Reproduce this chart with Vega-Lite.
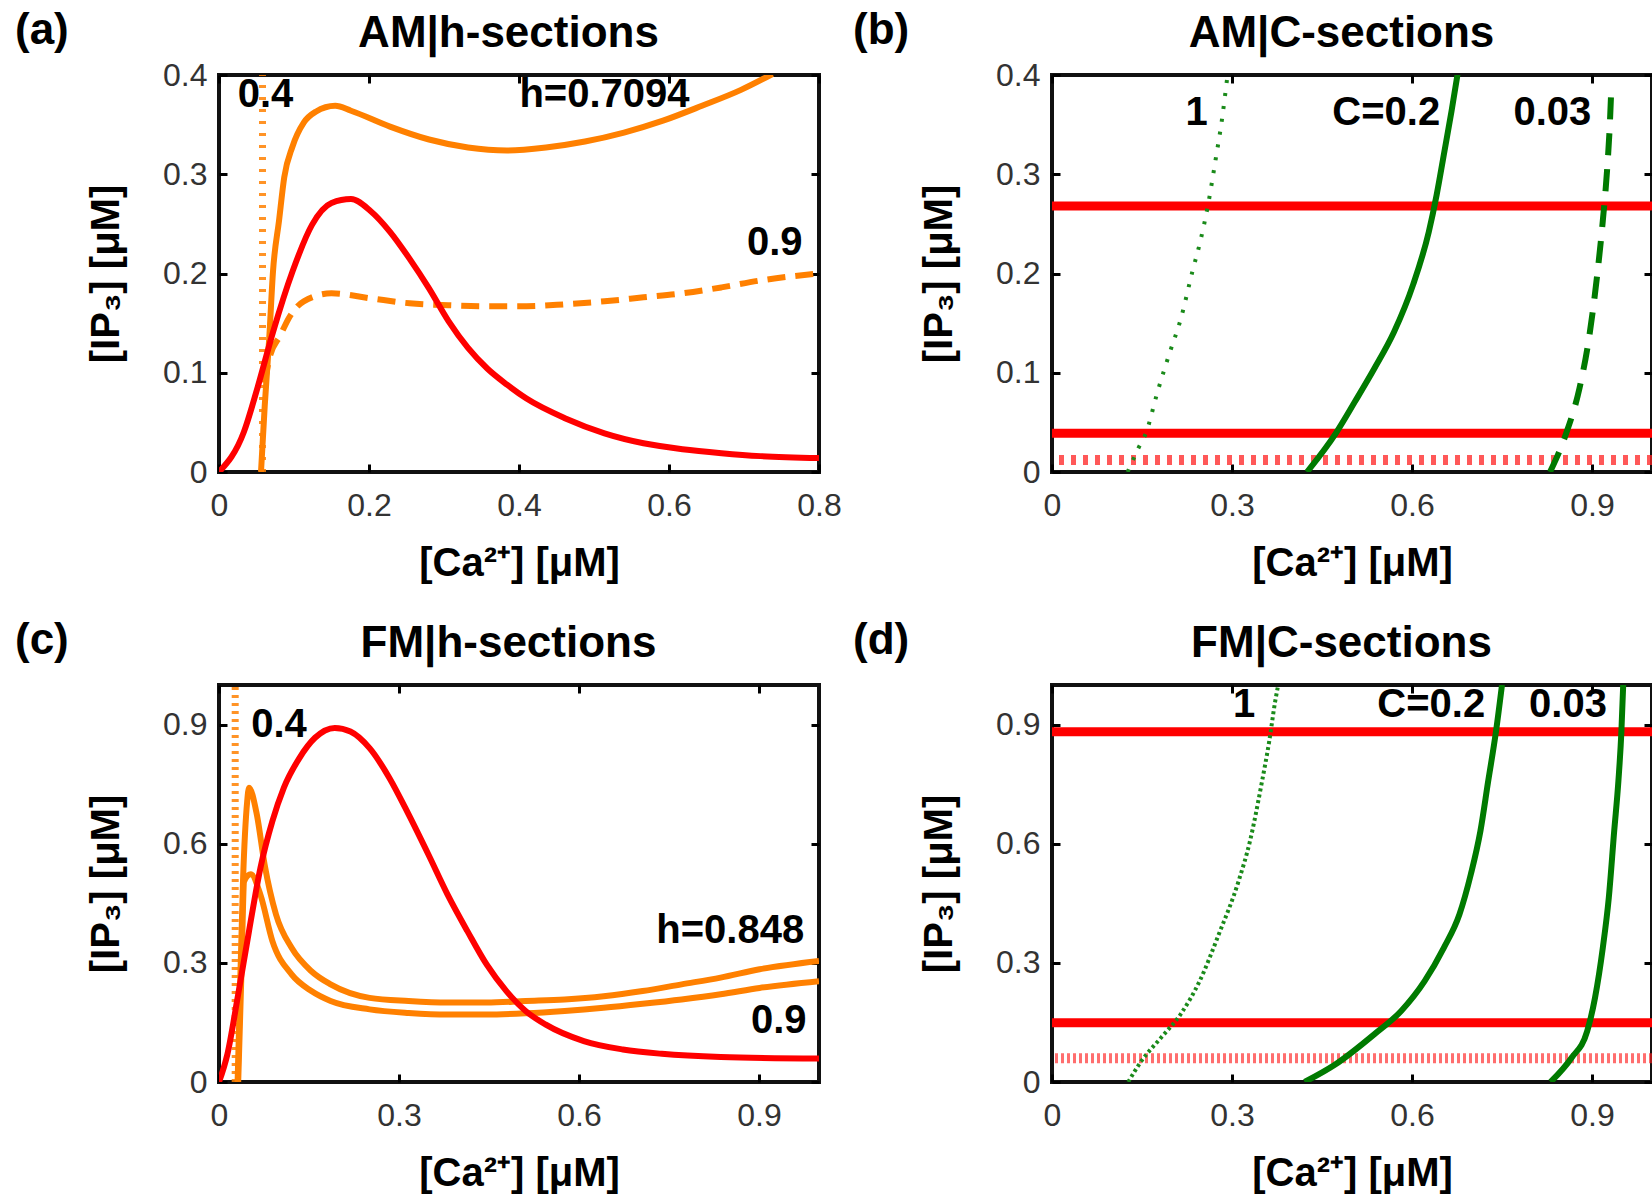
{
  "$schema": "https://vega.github.io/schema/vega-lite/v6.json",
  "padding": {"left": 13, "top": 7, "right": 0, "bottom": 0},
  "background": "white",
  "columns": 2,
  "spacing": {"row": 32, "column": 7},
  "datasets": {
    "a": [
      {"s": "h=0.7094", "x": 0.056, "y": 0}, {"s": "h=0.7094", "x": 0.061, "y": 0.067}, {"s": "h=0.7094", "x": 0.067, "y": 0.135}, {"s": "h=0.7094", "x": 0.072, "y": 0.202}, {"s": "h=0.7094", "x": 0.08, "y": 0.253}, {"s": "h=0.7094", "x": 0.087, "y": 0.297}, {"s": "h=0.7094", "x": 0.098, "y": 0.328}, {"s": "h=0.7094", "x": 0.113, "y": 0.352}, {"s": "h=0.7094", "x": 0.129, "y": 0.363}, {"s": "h=0.7094", "x": 0.155, "y": 0.369}, {"s": "h=0.7094", "x": 0.176, "y": 0.364}, {"s": "h=0.7094", "x": 0.228, "y": 0.348}, {"s": "h=0.7094", "x": 0.28, "y": 0.335}, {"s": "h=0.7094", "x": 0.332, "y": 0.327}, {"s": "h=0.7094", "x": 0.384, "y": 0.324}, {"s": "h=0.7094", "x": 0.436, "y": 0.327}, {"s": "h=0.7094", "x": 0.488, "y": 0.333}, {"s": "h=0.7094", "x": 0.54, "y": 0.342}, {"s": "h=0.7094", "x": 0.592, "y": 0.354}, {"s": "h=0.7094", "x": 0.644, "y": 0.369}, {"s": "h=0.7094", "x": 0.696, "y": 0.385}, {"s": "h=0.7094", "x": 0.738, "y": 0.401},
      {"s": "h=0.9", "x": 0.061, "y": 0.09}, {"s": "h=0.9", "x": 0.067, "y": 0.114}, {"s": "h=0.9", "x": 0.082, "y": 0.138}, {"s": "h=0.9", "x": 0.093, "y": 0.155}, {"s": "h=0.9", "x": 0.113, "y": 0.172}, {"s": "h=0.9", "x": 0.15, "y": 0.18}, {"s": "h=0.9", "x": 0.202, "y": 0.175}, {"s": "h=0.9", "x": 0.254, "y": 0.17}, {"s": "h=0.9", "x": 0.306, "y": 0.168}, {"s": "h=0.9", "x": 0.358, "y": 0.167}, {"s": "h=0.9", "x": 0.41, "y": 0.167}, {"s": "h=0.9", "x": 0.462, "y": 0.169}, {"s": "h=0.9", "x": 0.514, "y": 0.172}, {"s": "h=0.9", "x": 0.566, "y": 0.176}, {"s": "h=0.9", "x": 0.618, "y": 0.18}, {"s": "h=0.9", "x": 0.67, "y": 0.186}, {"s": "h=0.9", "x": 0.722, "y": 0.193}, {"s": "h=0.9", "x": 0.8, "y": 0.2},
      {"s": "h=0.4", "x": 0.058, "y": 0}, {"s": "h=0.4", "x": 0.058, "y": 0.4},
      {"s": "ref", "x": 0, "y": 0}, {"s": "ref", "x": 0.033, "y": 0.04}, {"s": "ref", "x": 0.051, "y": 0.084}, {"s": "ref", "x": 0.072, "y": 0.141}, {"s": "ref", "x": 0.098, "y": 0.202}, {"s": "ref", "x": 0.124, "y": 0.249}, {"s": "ref", "x": 0.15, "y": 0.271}, {"s": "ref", "x": 0.176, "y": 0.275}, {"s": "ref", "x": 0.202, "y": 0.263}, {"s": "ref", "x": 0.228, "y": 0.242}, {"s": "ref", "x": 0.254, "y": 0.215}, {"s": "ref", "x": 0.28, "y": 0.185}, {"s": "ref", "x": 0.306, "y": 0.152}, {"s": "ref", "x": 0.332, "y": 0.125}, {"s": "ref", "x": 0.358, "y": 0.104}, {"s": "ref", "x": 0.384, "y": 0.088}, {"s": "ref", "x": 0.41, "y": 0.074}, {"s": "ref", "x": 0.462, "y": 0.054}, {"s": "ref", "x": 0.514, "y": 0.039}, {"s": "ref", "x": 0.566, "y": 0.029}, {"s": "ref", "x": 0.618, "y": 0.023}, {"s": "ref", "x": 0.67, "y": 0.019}, {"s": "ref", "x": 0.722, "y": 0.016}, {"s": "ref", "x": 0.8, "y": 0.014}
    ],
    "a_lab": [{"t": "0.4", "x": 0.062, "y": 0.38}, {"t": "h=0.7094", "x": 0.514, "y": 0.38}, {"t": "0.9", "x": 0.741, "y": 0.231}],
    "b": [
      {"s": "level1", "y": 0.268}, {"s": "level2", "y": 0.039}, {"s": "level3", "y": 0.012},
      {"s": "C=1", "x": 0.126, "y": 0}, {"s": "C=1", "x": 0.144, "y": 0.024}, {"s": "C=1", "x": 0.157, "y": 0.04}, {"s": "C=1", "x": 0.176, "y": 0.081}, {"s": "C=1", "x": 0.195, "y": 0.118}, {"s": "C=1", "x": 0.215, "y": 0.155}, {"s": "C=1", "x": 0.234, "y": 0.202}, {"s": "C=1", "x": 0.247, "y": 0.232}, {"s": "C=1", "x": 0.26, "y": 0.269}, {"s": "C=1", "x": 0.273, "y": 0.316}, {"s": "C=1", "x": 0.283, "y": 0.354}, {"s": "C=1", "x": 0.292, "y": 0.397},
      {"s": "C=0.2", "x": 0.425, "y": 0}, {"s": "C=0.2", "x": 0.473, "y": 0.039}, {"s": "C=0.2", "x": 0.505, "y": 0.071}, {"s": "C=0.2", "x": 0.537, "y": 0.104}, {"s": "C=0.2", "x": 0.57, "y": 0.141}, {"s": "C=0.2", "x": 0.602, "y": 0.189}, {"s": "C=0.2", "x": 0.628, "y": 0.242}, {"s": "C=0.2", "x": 0.641, "y": 0.279}, {"s": "C=0.2", "x": 0.654, "y": 0.323}, {"s": "C=0.2", "x": 0.666, "y": 0.364}, {"s": "C=0.2", "x": 0.676, "y": 0.401},
      {"s": "C=0.03", "x": 0.83, "y": 0}, {"s": "C=0.03", "x": 0.857, "y": 0.039}, {"s": "C=0.03", "x": 0.879, "y": 0.084}, {"s": "C=0.03", "x": 0.895, "y": 0.135}, {"s": "C=0.03", "x": 0.908, "y": 0.195}, {"s": "C=0.03", "x": 0.918, "y": 0.253}, {"s": "C=0.03", "x": 0.925, "y": 0.303}, {"s": "C=0.03", "x": 0.93, "y": 0.354}, {"s": "C=0.03", "x": 0.932, "y": 0.384}
    ],
    "b_lab": [{"t": "1", "x": 0.241, "y": 0.362}, {"t": "C=0.2", "x": 0.557, "y": 0.362}, {"t": "0.03", "x": 0.834, "y": 0.362}],
    "c": [
      {"s": "h=0.848", "x": 0.031, "y": 0}, {"s": "h=0.848", "x": 0.034, "y": 0.17}, {"s": "h=0.848", "x": 0.04, "y": 0.506}, {"s": "h=0.848", "x": 0.047, "y": 0.707}, {"s": "h=0.848", "x": 0.05, "y": 0.741}, {"s": "h=0.848", "x": 0.063, "y": 0.674}, {"s": "h=0.848", "x": 0.076, "y": 0.548}, {"s": "h=0.848", "x": 0.095, "y": 0.422}, {"s": "h=0.848", "x": 0.121, "y": 0.338}, {"s": "h=0.848", "x": 0.154, "y": 0.279}, {"s": "h=0.848", "x": 0.186, "y": 0.246}, {"s": "h=0.848", "x": 0.251, "y": 0.212}, {"s": "h=0.848", "x": 0.316, "y": 0.204}, {"s": "h=0.848", "x": 0.381, "y": 0.2}, {"s": "h=0.848", "x": 0.446, "y": 0.2}, {"s": "h=0.848", "x": 0.511, "y": 0.204}, {"s": "h=0.848", "x": 0.576, "y": 0.208}, {"s": "h=0.848", "x": 0.641, "y": 0.216}, {"s": "h=0.848", "x": 0.706, "y": 0.229}, {"s": "h=0.848", "x": 0.771, "y": 0.246}, {"s": "h=0.848", "x": 0.836, "y": 0.263}, {"s": "h=0.848", "x": 0.901, "y": 0.284}, {"s": "h=0.848", "x": 1.0, "y": 0.305},
      {"s": "h=0.9", "x": 0.032, "y": 0}, {"s": "h=0.9", "x": 0.037, "y": 0.254}, {"s": "h=0.9", "x": 0.042, "y": 0.506}, {"s": "h=0.9", "x": 0.053, "y": 0.523}, {"s": "h=0.9", "x": 0.069, "y": 0.472}, {"s": "h=0.9", "x": 0.089, "y": 0.355}, {"s": "h=0.9", "x": 0.121, "y": 0.271}, {"s": "h=0.9", "x": 0.154, "y": 0.229}, {"s": "h=0.9", "x": 0.186, "y": 0.204}, {"s": "h=0.9", "x": 0.251, "y": 0.183}, {"s": "h=0.9", "x": 0.316, "y": 0.174}, {"s": "h=0.9", "x": 0.381, "y": 0.17}, {"s": "h=0.9", "x": 0.446, "y": 0.17}, {"s": "h=0.9", "x": 0.511, "y": 0.173}, {"s": "h=0.9", "x": 0.576, "y": 0.179}, {"s": "h=0.9", "x": 0.641, "y": 0.187}, {"s": "h=0.9", "x": 0.706, "y": 0.197}, {"s": "h=0.9", "x": 0.771, "y": 0.208}, {"s": "h=0.9", "x": 0.836, "y": 0.221}, {"s": "h=0.9", "x": 0.901, "y": 0.237}, {"s": "h=0.9", "x": 1.0, "y": 0.254},
      {"s": "h=0.4", "x": 0.027, "y": 0}, {"s": "h=0.4", "x": 0.027, "y": 1.0},
      {"s": "ref", "x": 0, "y": 0}, {"s": "ref", "x": 0.014, "y": 0.07}, {"s": "ref", "x": 0.031, "y": 0.212}, {"s": "ref", "x": 0.05, "y": 0.38}, {"s": "ref", "x": 0.069, "y": 0.539}, {"s": "ref", "x": 0.089, "y": 0.657}, {"s": "ref", "x": 0.108, "y": 0.741}, {"s": "ref", "x": 0.134, "y": 0.816}, {"s": "ref", "x": 0.16, "y": 0.867}, {"s": "ref", "x": 0.193, "y": 0.892}, {"s": "ref", "x": 0.219, "y": 0.883}, {"s": "ref", "x": 0.251, "y": 0.841}, {"s": "ref", "x": 0.284, "y": 0.766}, {"s": "ref", "x": 0.316, "y": 0.674}, {"s": "ref", "x": 0.349, "y": 0.573}, {"s": "ref", "x": 0.381, "y": 0.472}, {"s": "ref", "x": 0.414, "y": 0.38}, {"s": "ref", "x": 0.446, "y": 0.296}, {"s": "ref", "x": 0.479, "y": 0.229}, {"s": "ref", "x": 0.511, "y": 0.179}, {"s": "ref", "x": 0.544, "y": 0.145}, {"s": "ref", "x": 0.608, "y": 0.103}, {"s": "ref", "x": 0.673, "y": 0.082}, {"s": "ref", "x": 0.738, "y": 0.071}, {"s": "ref", "x": 0.836, "y": 0.063}, {"s": "ref", "x": 1.0, "y": 0.059}
    ],
    "c_lab": [{"t": "0.4", "x": 0.1, "y": 0.9}, {"t": "h=0.848", "x": 0.852, "y": 0.38}, {"t": "0.9", "x": 0.933, "y": 0.154}],
    "d": [
      {"s": "level1", "y": 0.882}, {"s": "level2", "y": 0.149}, {"s": "level3", "y": 0.06},
      {"s": "C=1", "x": 0.127, "y": 0}, {"s": "C=1", "x": 0.149, "y": 0.053}, {"s": "C=1", "x": 0.182, "y": 0.112}, {"s": "C=1", "x": 0.214, "y": 0.17}, {"s": "C=1", "x": 0.246, "y": 0.254}, {"s": "C=1", "x": 0.278, "y": 0.372}, {"s": "C=1", "x": 0.311, "y": 0.506}, {"s": "C=1", "x": 0.33, "y": 0.607}, {"s": "C=1", "x": 0.349, "y": 0.749}, {"s": "C=1", "x": 0.362, "y": 0.858}, {"s": "C=1", "x": 0.372, "y": 0.959}, {"s": "C=1", "x": 0.377, "y": 1.0},
      {"s": "C=0.2", "x": 0.421, "y": 0}, {"s": "C=0.2", "x": 0.472, "y": 0.044}, {"s": "C=0.2", "x": 0.537, "y": 0.12}, {"s": "C=0.2", "x": 0.582, "y": 0.179}, {"s": "C=0.2", "x": 0.621, "y": 0.254}, {"s": "C=0.2", "x": 0.653, "y": 0.338}, {"s": "C=0.2", "x": 0.679, "y": 0.422}, {"s": "C=0.2", "x": 0.698, "y": 0.523}, {"s": "C=0.2", "x": 0.714, "y": 0.632}, {"s": "C=0.2", "x": 0.727, "y": 0.758}, {"s": "C=0.2", "x": 0.74, "y": 0.883}, {"s": "C=0.2", "x": 0.75, "y": 1.0},
      {"s": "C=0.03", "x": 0.831, "y": 0}, {"s": "C=0.03", "x": 0.866, "y": 0.061}, {"s": "C=0.03", "x": 0.892, "y": 0.128}, {"s": "C=0.03", "x": 0.905, "y": 0.212}, {"s": "C=0.03", "x": 0.918, "y": 0.338}, {"s": "C=0.03", "x": 0.928, "y": 0.464}, {"s": "C=0.03", "x": 0.937, "y": 0.632}, {"s": "C=0.03", "x": 0.944, "y": 0.758}, {"s": "C=0.03", "x": 0.949, "y": 0.883}, {"s": "C=0.03", "x": 0.952, "y": 1.0}
    ],
    "d_lab": [{"t": "1", "x": 0.32, "y": 0.95}, {"t": "C=0.2", "x": 0.632, "y": 0.95}, {"t": "0.03", "x": 0.86, "y": 0.95}]
  },
  "concat": [
    {
      "title": {"text": "(a)", "dx": -204},
      "width": 600, "height": 397,
      "data": {"name": "a"},
      "layer": [
        {
          "transform": [{"filter": {"field": "s", "equal": "h=0.7094"}}],
          "mark": {"type": "line", "color": "#ff8000", "strokeWidth": 6, "interpolate": "monotone", "clip": true},
          "encoding": {
            "x": {"field": "x", "type": "quantitative", "scale": {"domain": [0, 0.8], "nice": false}, "axis": {"values": [0, 0.2, 0.4, 0.6, 0.8], "title": "[Ca²⁺] [μM]"}},
            "y": {"field": "y", "type": "quantitative", "scale": {"domain": [0, 0.4], "nice": false}, "axis": {"values": [0, 0.1, 0.2, 0.3, 0.4], "title": "[IP₃] [μM]"}}
          }
        },
        {
          "transform": [{"filter": {"field": "s", "equal": "h=0.9"}}],
          "mark": {"type": "line", "color": "#ff8000", "strokeWidth": 6, "strokeDash": [18, 10], "interpolate": "monotone", "clip": true},
          "encoding": {
            "x": {"field": "x", "type": "quantitative", "scale": {"domain": [0, 0.8], "nice": false}, "axis": null},
            "y": {"field": "y", "type": "quantitative", "scale": {"domain": [0, 0.4], "nice": false}, "axis": null}
          }
        },
        {
          "transform": [{"filter": {"field": "s", "equal": "h=0.4"}}],
          "mark": {"type": "line", "color": "#ff8000", "strokeWidth": 7, "strokeDash": [3, 9], "opacity": 0.85, "clip": true},
          "encoding": {
            "x": {"field": "x", "type": "quantitative", "scale": {"domain": [0, 0.8], "nice": false}, "axis": null},
            "y": {"field": "y", "type": "quantitative", "scale": {"domain": [0, 0.4], "nice": false}, "axis": null}
          }
        },
        {
          "transform": [{"filter": {"field": "s", "equal": "ref"}}],
          "mark": {"type": "line", "color": "#ff0000", "strokeWidth": 6, "interpolate": "monotone", "clip": true},
          "encoding": {
            "x": {"field": "x", "type": "quantitative", "scale": {"domain": [0, 0.8], "nice": false}, "axis": null},
            "y": {"field": "y", "type": "quantitative", "scale": {"domain": [0, 0.4], "nice": false}, "axis": null}
          }
        },
        {
          "data": {"name": "a_lab"},
          "mark": {"type": "text", "align": "center", "baseline": "middle", "color": "#000"},
          "encoding": {
            "x": {"field": "x", "type": "quantitative", "scale": {"domain": [0, 0.8], "nice": false}, "axis": {"orient": "top", "labels": false, "values": [0, 0.2, 0.4, 0.6, 0.8], "title": "AM|h-sections"}},
            "y": {"field": "y", "type": "quantitative", "scale": {"domain": [0, 0.4], "nice": false}, "axis": {"orient": "right", "labels": false, "values": [0, 0.1, 0.2, 0.3, 0.4], "title": null}},
            "text": {"field": "t"}
          }
        }
      ],
      "resolve": {"axis": {"x": "independent", "y": "independent"}}
    },
    {
      "title": {"text": "(b)", "dx": -199},
      "width": 600, "height": 397,
      "data": {"name": "b"},
      "layer": [
        {
          "transform": [{"filter": {"field": "s", "oneOf": ["level1", "level2"]}}],
          "mark": {"type": "rule", "color": "#ff0000", "strokeWidth": 9},
          "encoding": {
            "y": {"field": "y", "type": "quantitative", "scale": {"domain": [0, 0.4], "nice": false}, "axis": null}
          }
        },
        {
          "transform": [{"filter": {"field": "s", "equal": "level3"}}],
          "mark": {"type": "rule", "color": "#ff2020", "strokeWidth": 10, "strokeDash": [5, 7], "opacity": 0.75},
          "encoding": {
            "y": {"field": "y", "type": "quantitative", "scale": {"domain": [0, 0.4], "nice": false}, "axis": null}
          }
        },
        {
          "transform": [{"filter": {"field": "s", "equal": "C=0.2"}}],
          "mark": {"type": "line", "color": "#007a00", "strokeWidth": 6, "interpolate": "monotone", "clip": true},
          "encoding": {
            "x": {"field": "x", "type": "quantitative", "scale": {"domain": [0, 1], "nice": false}, "axis": {"values": [0, 0.3, 0.6, 0.9], "title": "[Ca²⁺] [μM]"}},
            "y": {"field": "y", "type": "quantitative", "scale": {"domain": [0, 0.4], "nice": false}, "axis": {"values": [0, 0.1, 0.2, 0.3, 0.4], "title": "[IP₃] [μM]"}}
          }
        },
        {
          "transform": [{"filter": {"field": "s", "equal": "C=0.03"}}],
          "mark": {"type": "line", "color": "#007a00", "strokeWidth": 6, "strokeDash": [22, 14], "interpolate": "monotone", "clip": true},
          "encoding": {
            "x": {"field": "x", "type": "quantitative", "scale": {"domain": [0, 1], "nice": false}, "axis": null},
            "y": {"field": "y", "type": "quantitative", "scale": {"domain": [0, 0.4], "nice": false}, "axis": null}
          }
        },
        {
          "transform": [{"filter": {"field": "s", "equal": "C=1"}}],
          "mark": {"type": "line", "color": "#1a8a1a", "strokeWidth": 4, "strokeDash": [3, 10], "interpolate": "monotone", "clip": true},
          "encoding": {
            "x": {"field": "x", "type": "quantitative", "scale": {"domain": [0, 1], "nice": false}, "axis": null},
            "y": {"field": "y", "type": "quantitative", "scale": {"domain": [0, 0.4], "nice": false}, "axis": null}
          }
        },
        {
          "data": {"name": "b_lab"},
          "mark": {"type": "text", "align": "center", "baseline": "middle", "color": "#000"},
          "encoding": {
            "x": {"field": "x", "type": "quantitative", "scale": {"domain": [0, 1], "nice": false}, "axis": {"orient": "top", "labels": false, "values": [0, 0.3, 0.6, 0.9], "title": "AM|C-sections"}},
            "y": {"field": "y", "type": "quantitative", "scale": {"domain": [0, 0.4], "nice": false}, "axis": {"orient": "right", "labels": false, "values": [0, 0.1, 0.2, 0.3, 0.4], "title": null}},
            "text": {"field": "t"}
          }
        }
      ],
      "resolve": {"axis": {"x": "independent", "y": "independent"}}
    },
    {
      "title": {"text": "(c)", "dx": -204},
      "width": 600, "height": 397,
      "data": {"name": "c"},
      "layer": [
        {
          "transform": [{"filter": {"field": "s", "oneOf": ["h=0.848", "h=0.9"]}}],
          "mark": {"type": "line", "color": "#ff8000", "strokeWidth": 6, "interpolate": "monotone", "clip": true},
          "encoding": {
            "x": {"field": "x", "type": "quantitative", "scale": {"domain": [0, 1], "nice": false}, "axis": {"values": [0, 0.3, 0.6, 0.9], "title": "[Ca²⁺] [μM]"}},
            "y": {"field": "y", "type": "quantitative", "scale": {"domain": [0, 1], "nice": false}, "axis": {"values": [0, 0.3, 0.6, 0.9], "title": "[IP₃] [μM]"}},
            "detail": {"field": "s"}
          }
        },
        {
          "transform": [{"filter": {"field": "s", "equal": "h=0.4"}}],
          "mark": {"type": "line", "color": "#ff8000", "strokeWidth": 7, "strokeDash": [3, 5], "opacity": 0.85, "clip": true},
          "encoding": {
            "x": {"field": "x", "type": "quantitative", "scale": {"domain": [0, 1], "nice": false}, "axis": null},
            "y": {"field": "y", "type": "quantitative", "scale": {"domain": [0, 1], "nice": false}, "axis": null}
          }
        },
        {
          "transform": [{"filter": {"field": "s", "equal": "ref"}}],
          "mark": {"type": "line", "color": "#ff0000", "strokeWidth": 6, "interpolate": "monotone", "clip": true},
          "encoding": {
            "x": {"field": "x", "type": "quantitative", "scale": {"domain": [0, 1], "nice": false}, "axis": null},
            "y": {"field": "y", "type": "quantitative", "scale": {"domain": [0, 1], "nice": false}, "axis": null}
          }
        },
        {
          "data": {"name": "c_lab"},
          "mark": {"type": "text", "align": "center", "baseline": "middle", "color": "#000"},
          "encoding": {
            "x": {"field": "x", "type": "quantitative", "scale": {"domain": [0, 1], "nice": false}, "axis": {"orient": "top", "labels": false, "values": [0, 0.3, 0.6, 0.9], "title": "FM|h-sections"}},
            "y": {"field": "y", "type": "quantitative", "scale": {"domain": [0, 1], "nice": false}, "axis": {"orient": "right", "labels": false, "values": [0, 0.3, 0.6, 0.9], "title": null}},
            "text": {"field": "t"}
          }
        }
      ],
      "resolve": {"axis": {"x": "independent", "y": "independent"}}
    },
    {
      "title": {"text": "(d)", "dx": -199},
      "width": 600, "height": 397,
      "data": {"name": "d"},
      "layer": [
        {
          "transform": [{"filter": {"field": "s", "oneOf": ["level1", "level2"]}}],
          "mark": {"type": "rule", "color": "#ff0000", "strokeWidth": 9},
          "encoding": {
            "y": {"field": "y", "type": "quantitative", "scale": {"domain": [0, 1], "nice": false}, "axis": null}
          }
        },
        {
          "transform": [{"filter": {"field": "s", "equal": "level3"}}],
          "mark": {"type": "rule", "color": "#ff2020", "strokeWidth": 10, "strokeDash": [3, 3], "opacity": 0.65},
          "encoding": {
            "y": {"field": "y", "type": "quantitative", "scale": {"domain": [0, 1], "nice": false}, "axis": null}
          }
        },
        {
          "transform": [{"filter": {"field": "s", "oneOf": ["C=0.2", "C=0.03"]}}],
          "mark": {"type": "line", "color": "#007a00", "strokeWidth": 6, "interpolate": "monotone", "clip": true},
          "encoding": {
            "x": {"field": "x", "type": "quantitative", "scale": {"domain": [0, 1], "nice": false}, "axis": {"values": [0, 0.3, 0.6, 0.9], "title": "[Ca²⁺] [μM]"}},
            "y": {"field": "y", "type": "quantitative", "scale": {"domain": [0, 1], "nice": false}, "axis": {"values": [0, 0.3, 0.6, 0.9], "title": "[IP₃] [μM]"}},
            "detail": {"field": "s"}
          }
        },
        {
          "transform": [{"filter": {"field": "s", "equal": "C=1"}}],
          "mark": {"type": "line", "color": "#1a8a1a", "strokeWidth": 4, "strokeDash": [3, 3], "interpolate": "monotone", "clip": true},
          "encoding": {
            "x": {"field": "x", "type": "quantitative", "scale": {"domain": [0, 1], "nice": false}, "axis": null},
            "y": {"field": "y", "type": "quantitative", "scale": {"domain": [0, 1], "nice": false}, "axis": null}
          }
        },
        {
          "data": {"name": "d_lab"},
          "mark": {"type": "text", "align": "center", "baseline": "middle", "color": "#000"},
          "encoding": {
            "x": {"field": "x", "type": "quantitative", "scale": {"domain": [0, 1], "nice": false}, "axis": {"orient": "top", "labels": false, "values": [0, 0.3, 0.6, 0.9], "title": "FM|C-sections"}},
            "y": {"field": "y", "type": "quantitative", "scale": {"domain": [0, 1], "nice": false}, "axis": {"orient": "right", "labels": false, "values": [0, 0.3, 0.6, 0.9], "title": null}},
            "text": {"field": "t"}
          }
        }
      ],
      "resolve": {"axis": {"x": "independent", "y": "independent"}}
    }
  ],
  "config": {
    "view": {"stroke": "#111", "strokeWidth": 4},
    "numberFormat": "~g",
    "font": "Liberation Sans",
    "axis": {"domain": false, "grid": false, "ticks": true, "tickColor": "#000", "tickWidth": 3, "tickSize": -8, "labelFont": "Liberation Sans", "labelFontSize": 32, "labelColor": "#333", "labelFlush": false, "labelOverlap": false, "labelBound": false, "titleFont": "Liberation Sans", "titleFontSize": 40, "titleFontWeight": "bold", "titleColor": "#000"},
    "axisBottom": {"labelPadding": 26, "titleBaseline": "alphabetic", "titleY": 103},
    "axisLeft": {"labelPadding": 20, "titleBaseline": "alphabetic", "titleX": -101},
    "axisTop": {"titleFontSize": 44, "titleBaseline": "alphabetic", "titleX": 289, "titleY": -29},
    "title": {"anchor": "start", "frame": "group", "baseline": "alphabetic", "offset": -42, "fontSize": 44, "fontWeight": "bold", "font": "Liberation Sans", "color": "#000"},
    "text": {"font": "Liberation Sans", "fontSize": 40, "fontWeight": "bold"}
  }
}
